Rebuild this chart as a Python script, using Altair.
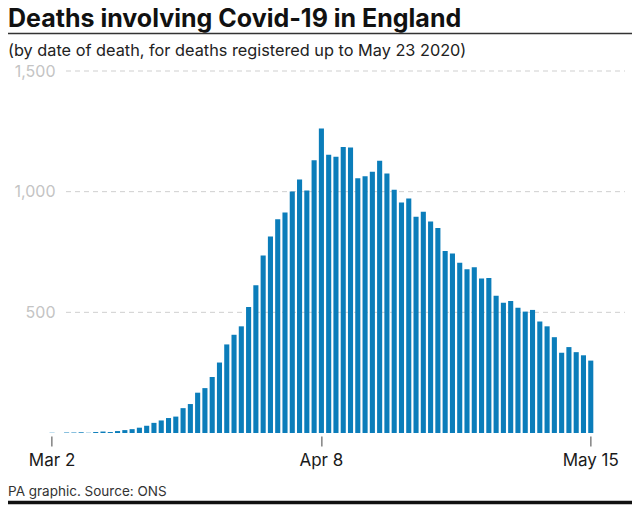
import altair as alt
import pandas as pd

# ---- data ----
dates = pd.date_range("2020-03-02", "2020-05-15", freq="D")
day_labels = [f"{d:%b} {d.day}" for d in dates]
deaths = [1, 0, 2, 2, 3, 1, 4, 6, 4, 8, 12, 16, 22, 30, 42, 52, 62, 68,
          103, 120, 167, 186, 232, 292, 367, 407, 442, 522, 612, 735, 814, 886, 914,
          1001, 1050, 1005, 1130,
          1262, 1153, 1145, 1185, 1183, 1056, 1064, 1083, 1128, 1075, 1008, 955, 972,
          896, 917, 876, 849, 754, 744, 705, 679, 687, 640, 642, 569, 540, 547, 519,
          503, 510, 462, 442, 397, 333, 356, 335, 322, 300]
tick_days = ["Mar 2", "Apr 8", "May 15"]
grid_values = [500, 1000, 1500]
title_text = "Deaths involving Covid-19 in England"
subtitle_text = "(by date of death, for deaths registered up to May 23 2020)"
source_text = "PA graphic. Source: ONS"

df = pd.DataFrame({"day": day_labels, "deaths": deaths})
grid_df = pd.DataFrame({"v": grid_values})

FONT = "Inter"
PL = 40.4   # left padding -> plot starts at page x 48.4
PT = 63     # top padding -> plot top at page y 71
W, H = 546, 362
y_scale = alt.Scale(domain=[0, 1500])
y_axis = alt.Axis(values=grid_values, format=",d", title=None, ticks=False, tickSize=0,
                  domain=False, grid=False, labelPadding=-6.6, labelColor="#c4c4c4",
                  labelFontSize=16, labelFont=FONT, labelBaseline="middle")

grid = alt.Chart(grid_df).mark_rule(color="#cfcfcf", strokeDash=[5, 4], strokeWidth=1).encode(
    y=alt.Y("v:Q", scale=y_scale, axis=y_axis),
    x=alt.value(66 - 8 - PL), x2=alt.value(625 - 8 - PL),
)

bars = alt.Chart(df).mark_bar(color="#0b7dba").encode(
    x=alt.X("day:O", sort=None,
            scale=alt.Scale(paddingInner=0.3, paddingOuter=0.15),
            axis=alt.Axis(values=tick_days, title=None, labelAngle=0, domain=False,
                          tickSize=10, tickColor="#444", tickWidth=1, offset=3,
                          labelPadding=6, labelFontSize=17, labelFont=FONT,
                          labelColor="#1a1a1a", grid=False)),
    y=alt.Y("deaths:Q", scale=y_scale, axis=y_axis),
)

one = pd.DataFrame({"t": [title_text], "s": [subtitle_text], "f": [source_text]})

title = alt.Chart(one).mark_text(align="left", baseline="alphabetic", font=FONT,
                                 fontSize=25, fontWeight="bold", color="#111").encode(
    text="t:N", x=alt.value(-PL), y=alt.value(26.8 - 8 - PT))
subtitle = alt.Chart(one).mark_text(align="left", baseline="alphabetic", font=FONT,
                                    fontSize=16.3, color="#222").encode(
    text="s:N", x=alt.value(-PL), y=alt.value(55.5 - 8 - PT))
footer = alt.Chart(one).mark_text(align="left", baseline="alphabetic", font=FONT,
                                  fontSize=13.5, color="#333").encode(
    text="f:N", x=alt.value(-PL), y=alt.value(496 - 8 - PT))
top_rule = alt.Chart(one).mark_rule(color="#333", strokeWidth=1.5).encode(
    x=alt.value(-PL), x2=alt.value(632 - 8 - PL), y=alt.value(33.5 - 8 - PT))
bottom_rule = alt.Chart(one).mark_rule(color="#111", strokeWidth=3.5).encode(
    x=alt.value(-PL), x2=alt.value(632 - 8 - PL), y=alt.value(502.5 - 8 - PT))

total_w, total_h = 624, 499
chart = alt.layer(grid, bars, title, subtitle, footer, top_rule, bottom_rule).properties(
    width=W, height=H,
    padding={"left": PL, "top": PT, "right": total_w - W - PL, "bottom": total_h - H - PT},
    autosize=alt.AutoSizeParams(type="none"),
    background="white",
).configure_view(stroke=None)

chart.save("out.html", embed_options={"renderer": "svg", "actions": False})
